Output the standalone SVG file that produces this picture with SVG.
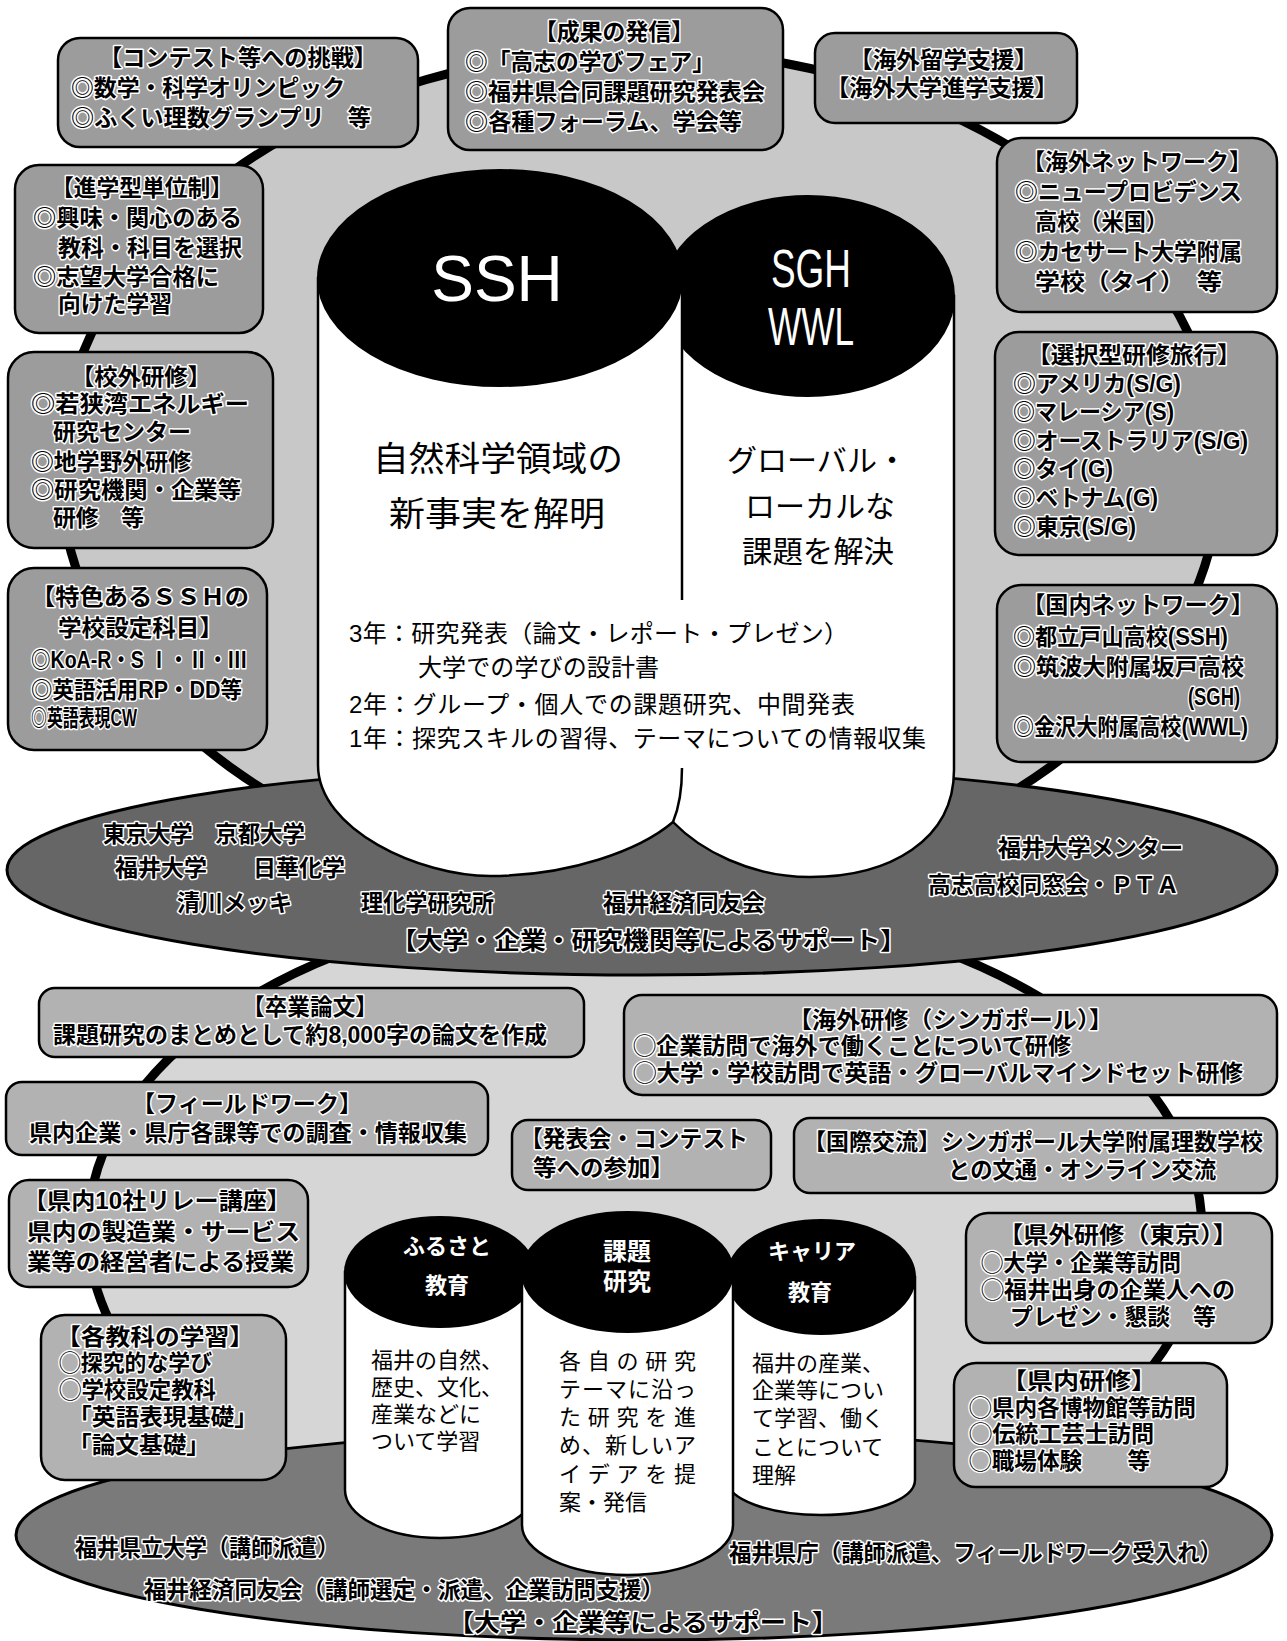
<svg xmlns="http://www.w3.org/2000/svg" width="1287" height="1641" viewBox="0 0 1287 1641">
<defs>
<style>
.bgtop{fill:#c8c8c8}
.bgbot{fill:#d6d6d6}
.ring{fill:none;stroke:#000;stroke-width:9}
.box{fill:#9c9c9c;stroke:#000;stroke-width:2.5}
.box2{fill:#b2b2b2;stroke:#000;stroke-width:2.5}
.dark{fill:#666;stroke:#000;stroke-width:3}
.dark2{fill:#7a7a7a;stroke:#000;stroke-width:3}
.cyl{fill:#fff;stroke:#000;stroke-width:2.5}
.cap{fill:#000;stroke:#000;stroke-width:2}
.t{font-family:"Liberation Sans","Noto Sans CJK JP",sans-serif;font-weight:700;font-size:23px;fill:#000;stroke:#fff;stroke-width:3;paint-order:stroke;stroke-linejoin:round;dominant-baseline:central}
.b{font-family:"Liberation Sans","Noto Sans CJK JP",sans-serif;font-weight:400;font-size:22px;fill:#000;dominant-baseline:central}
.bl{font-family:"Liberation Sans","Noto Sans CJK JP",sans-serif;font-weight:400;font-size:34px;fill:#000;dominant-baseline:central}
.w{font-family:"Liberation Sans","Noto Sans CJK JP",sans-serif;font-weight:700;font-size:22px;fill:#fff;dominant-baseline:central}
.lat{font-family:"Liberation Sans",Arial,sans-serif;fill:#fff}
</style>
</defs>
<rect width="1287" height="1641" fill="#fff"/>
<g id="background">
<ellipse class="bgtop" cx="640" cy="470" rx="580" ry="420"/>
<ellipse class="bgbot" cx="645" cy="1230" rx="557" ry="330"/>
</g>
<g id="connectors">
<ellipse class="ring" cx="640" cy="470" rx="580" ry="420"/>
<ellipse class="ring" cx="645" cy="1230" rx="557" ry="330"/>
</g>

<g id="support-top">
<ellipse class="dark" cx="642" cy="870" rx="635" ry="105"/>
<text class="t" x="103" y="834" textLength="202" lengthAdjust="spacingAndGlyphs">東京大学　京都大学</text>
<text class="t" x="115" y="868" textLength="230" lengthAdjust="spacingAndGlyphs">福井大学　　日華化学</text>
<text class="t" x="177" y="903" textLength="115" lengthAdjust="spacingAndGlyphs">清川メッキ</text>
<text class="t" x="361" y="903" textLength="133" lengthAdjust="spacingAndGlyphs">理化学研究所</text>
<text class="t" x="603" y="903" textLength="162" lengthAdjust="spacingAndGlyphs">福井経済同友会</text>
<text class="t" x="391" y="940" textLength="515" lengthAdjust="spacingAndGlyphs" style="font-size:24px">【大学・企業・研究機関等によるサポート】</text>
<text class="t" x="998" y="848" textLength="185" lengthAdjust="spacingAndGlyphs">福井大学メンター</text>
<text class="t" x="928" y="885" textLength="251" lengthAdjust="spacingAndGlyphs">高志高校同窓会・ＰＴＡ</text>
</g>

<g id="sgh-cylinder">
<path class="cyl" d="M662,296 L662,760 L673,822 C700,850 750,877 810,877 C890,877 954,840 954,770 L954,296 Z"/>
<ellipse class="cap" cx="808" cy="296" rx="146" ry="100"/>
<text class="lat" x="771" y="287" textLength="80" lengthAdjust="spacingAndGlyphs" style="font-size:54px">SGH</text>
<text class="lat" x="768" y="345" textLength="86" lengthAdjust="spacingAndGlyphs" style="font-size:54px">WWL</text>
<text class="bl" x="727" y="460" textLength="180" lengthAdjust="spacingAndGlyphs" style="font-size:30px">グローバル・</text>
<text class="bl" x="745" y="506" textLength="150" lengthAdjust="spacingAndGlyphs" style="font-size:30px">ローカルな</text>
<text class="bl" x="742" y="551" textLength="152" lengthAdjust="spacingAndGlyphs" style="font-size:30px">課題を解決</text>
</g>

<g id="ssh-cylinder">
<path class="cyl" d="M318,278 L318,765 C318,830 420,876 490,876 C570,876 640,850 673,822 C678,810 682,795 682,768 L682,278 Z"/>
<ellipse class="cap" cx="500" cy="278" rx="182" ry="108"/>
<text class="lat" x="497" y="301" text-anchor="middle" style="font-size:64px">SSH</text>
<text class="bl" x="373" y="459" textLength="250" lengthAdjust="spacingAndGlyphs">自然科学領域の</text>
<text class="bl" x="389" y="514" textLength="216" lengthAdjust="spacingAndGlyphs">新事実を解明</text>
</g>

<g id="years">
<rect x="326" y="600" width="620" height="168" fill="#fff"/>
<text class="b" x="349" y="633" textLength="499" lengthAdjust="spacing" style="font-size:24px">3年：研究発表（論文・レポート・プレゼン）</text>
<text class="b" x="418" y="667" textLength="241" lengthAdjust="spacing" style="font-size:24px">大学での学びの設計書</text>
<text class="b" x="349" y="704" textLength="506" lengthAdjust="spacing" style="font-size:24px">2年：グループ・個人での課題研究、中間発表</text>
<text class="b" x="349" y="738" textLength="577" lengthAdjust="spacing" style="font-size:24px">1年：探究スキルの習得、テーマについての情報収集</text>
</g>

<g id="box-contest">
<rect class="box" x="58" y="38" width="360" height="109" rx="22"/>
<text class="t" x="99" y="58" textLength="278" lengthAdjust="spacingAndGlyphs">【コンテスト等への挑戦】</text>
<text class="t" x="71" y="88" textLength="274" lengthAdjust="spacingAndGlyphs">◎数学・科学オリンピック</text>
<text class="t" x="71" y="118" textLength="300" lengthAdjust="spacingAndGlyphs">◎ふくい理数グランプリ　等</text>
</g>
<g id="box-tanisei">
<rect class="box" x="15" y="165" width="248" height="168" rx="24"/>
<text class="t" x="51" y="188" textLength="182" lengthAdjust="spacingAndGlyphs">【進学型単位制】</text>
<text class="t" x="33" y="218" textLength="209" lengthAdjust="spacingAndGlyphs">◎興味・関心のある</text>
<text class="t" x="58" y="248" textLength="184" lengthAdjust="spacingAndGlyphs">教科・科目を選択</text>
<text class="t" x="33" y="277" textLength="186" lengthAdjust="spacingAndGlyphs">◎志望大学合格に</text>
<text class="t" x="58" y="304" textLength="114" lengthAdjust="spacingAndGlyphs">向けた学習</text>
</g>
<g id="box-seika">
<rect class="box" x="448" y="8" width="335" height="142" rx="22"/>
<text class="t" x="534" y="32" textLength="160" lengthAdjust="spacingAndGlyphs">【成果の発信】</text>
<text class="t" x="465" y="62" textLength="250" lengthAdjust="spacingAndGlyphs">◎「高志の学びフェア」</text>
<text class="t" x="465" y="92" textLength="300" lengthAdjust="spacingAndGlyphs">◎福井県合同課題研究発表会</text>
<text class="t" x="465" y="122" textLength="277" lengthAdjust="spacingAndGlyphs">◎各種フォーラム、学会等</text>
</g>
<g id="box-ryugaku">
<rect class="box" x="815" y="33" width="262" height="90" rx="20"/>
<text class="t" x="849" y="60" textLength="189" lengthAdjust="spacingAndGlyphs">【海外留学支援】</text>
<text class="t" x="826" y="88" textLength="232" lengthAdjust="spacingAndGlyphs">【海外大学進学支援】</text>
</g>
<g id="box-kaigai-net">
<rect class="box" x="997" y="138" width="280" height="174" rx="24"/>
<text class="t" x="1022" y="162" textLength="230" lengthAdjust="spacingAndGlyphs">【海外ネットワーク】</text>
<text class="t" x="1015" y="192" textLength="227" lengthAdjust="spacingAndGlyphs">◎ニュープロビデンス</text>
<text class="t" x="1035" y="222" textLength="133" lengthAdjust="spacingAndGlyphs">高校（米国）</text>
<text class="t" x="1015" y="252" textLength="227" lengthAdjust="spacingAndGlyphs">◎カセサート大学附属</text>
<text class="t" x="1035" y="282" textLength="187" lengthAdjust="spacingAndGlyphs">学校（タイ）　等</text>
</g>
<g id="box-ryoko">
<rect class="box" x="995" y="332" width="282" height="223" rx="24"/>
<text class="t" x="1027" y="355" textLength="214" lengthAdjust="spacingAndGlyphs">【選択型研修旅行】</text>
<text class="t" x="1013" y="384" textLength="168" lengthAdjust="spacingAndGlyphs">◎アメリカ(S/G)</text>
<text class="t" x="1013" y="412" textLength="161" lengthAdjust="spacingAndGlyphs">◎マレーシア(S)</text>
<text class="t" x="1013" y="441" textLength="235" lengthAdjust="spacingAndGlyphs">◎オーストラリア(S/G)</text>
<text class="t" x="1013" y="469" textLength="100" lengthAdjust="spacingAndGlyphs">◎タイ(G)</text>
<text class="t" x="1013" y="498" textLength="145" lengthAdjust="spacingAndGlyphs">◎ベトナム(G)</text>
<text class="t" x="1013" y="527" textLength="123" lengthAdjust="spacingAndGlyphs">◎東京(S/G)</text>
</g>
<g id="box-kokunai-net">
<rect class="box" x="997" y="585" width="280" height="177" rx="24"/>
<text class="t" x="1022" y="605" textLength="232" lengthAdjust="spacingAndGlyphs">【国内ネットワーク】</text>
<text class="t" x="1013" y="637" textLength="215" lengthAdjust="spacingAndGlyphs">◎都立戸山高校(SSH)</text>
<text class="t" x="1013" y="667" textLength="231" lengthAdjust="spacingAndGlyphs">◎筑波大附属坂戸高校</text>
<text class="t" x="1188" y="697" textLength="52" lengthAdjust="spacingAndGlyphs">(SGH)</text>
<text class="t" x="1013" y="727" textLength="235" lengthAdjust="spacingAndGlyphs">◎金沢大附属高校(WWL)</text>
</g>
<g id="box-kogai">
<rect class="box" x="8" y="352" width="265" height="196" rx="26"/>
<text class="t" x="71" y="377" textLength="140" lengthAdjust="spacingAndGlyphs">【校外研修】</text>
<text class="t" x="31" y="404" textLength="218" lengthAdjust="spacingAndGlyphs">◎若狭湾エネルギー</text>
<text class="t" x="53" y="432" textLength="138" lengthAdjust="spacingAndGlyphs">研究センター</text>
<text class="t" x="31" y="462" textLength="160" lengthAdjust="spacingAndGlyphs">◎地学野外研修</text>
<text class="t" x="31" y="490" textLength="210" lengthAdjust="spacingAndGlyphs">◎研究機関・企業等</text>
<text class="t" x="53" y="518" textLength="91" lengthAdjust="spacingAndGlyphs">研修　等</text>
</g>
<g id="box-tokushoku">
<rect class="box" x="8" y="568" width="259" height="182" rx="26"/>
<text class="t" x="31" y="597" textLength="218" lengthAdjust="spacingAndGlyphs">【特色あるＳＳＨの</text>
<text class="t" x="58" y="628" textLength="165" lengthAdjust="spacingAndGlyphs">学校設定科目】</text>
<text class="t" x="31" y="660" textLength="216" lengthAdjust="spacingAndGlyphs">◎KoA-R・S Ⅰ・Ⅱ・Ⅲ</text>
<text class="t" x="31" y="690" textLength="211" lengthAdjust="spacingAndGlyphs">◎英語活用RP・DD等</text>
<text class="t" x="31" y="718" textLength="106" lengthAdjust="spacingAndGlyphs">◎英語表現CW</text>
</g>

<g id="support-bottom">
<ellipse class="dark2" cx="644" cy="1535" rx="628" ry="105"/>
<text class="t" x="75" y="1548" textLength="264" lengthAdjust="spacingAndGlyphs">福井県立大学（講師派遣）</text>
<text class="t" x="144" y="1590" textLength="520" lengthAdjust="spacingAndGlyphs">福井経済同友会（講師選定・派遣、企業訪問支援）</text>
<text class="t" x="729" y="1553" textLength="493" lengthAdjust="spacingAndGlyphs">福井県庁（講師派遣、フィールドワーク受入れ）</text>
<text class="t" x="448" y="1622" textLength="390" lengthAdjust="spacingAndGlyphs" style="font-size:24px">【大学・企業等によるサポート】</text>
</g>

<g id="cyl-furusato">
<path class="cyl" d="M345,1272 L345,1490 A95,48 0 0,0 535,1490 L535,1272 Z"/>
<ellipse class="cap" cx="440" cy="1272" rx="95" ry="55"/>
<text class="w" x="447" y="1246" text-anchor="middle">ふるさと</text>
<text class="w" x="447" y="1285" text-anchor="middle">教育</text>
<text class="b" x="371" y="1360">福井の自然、</text>
<text class="b" x="371" y="1387">歴史、文化、</text>
<text class="b" x="371" y="1414">産業などに</text>
<text class="b" x="371" y="1441">ついて学習</text>
</g>
<g id="cyl-career">
<path class="cyl" d="M727,1277 L727,1480 A94,35 0 0,0 915,1480 L915,1277 Z"/>
<ellipse class="cap" cx="821" cy="1277" rx="94" ry="57"/>
<text class="w" x="812" y="1251" text-anchor="middle">キャリア</text>
<text class="w" x="810" y="1292" text-anchor="middle">教育</text>
<text class="b" x="752" y="1363">福井の産業、</text>
<text class="b" x="752" y="1390">企業等につい</text>
<text class="b" x="752" y="1418">て学習、働く</text>
<text class="b" x="752" y="1447">ことについて</text>
<text class="b" x="752" y="1475">理解</text>
</g>
<g id="cyl-kadai">
<path class="cyl" d="M522,1272 L522,1525 A105.5,50 0 0,0 733,1525 L733,1272 Z"/>
<ellipse class="cap" cx="627.5" cy="1272" rx="105.5" ry="60"/>
<text class="w" x="627" y="1251" text-anchor="middle" style="font-size:24px">課題</text>
<text class="w" x="627" y="1281" text-anchor="middle" style="font-size:24px">研究</text>
<text class="b" x="559" y="1361" textLength="137" lengthAdjust="spacing">各自の研究</text>
<text class="b" x="559" y="1389" textLength="137" lengthAdjust="spacing">テーマに沿っ</text>
<text class="b" x="559" y="1417" textLength="137" lengthAdjust="spacing">た研究を進</text>
<text class="b" x="559" y="1445" textLength="137" lengthAdjust="spacing">め、新しいア</text>
<text class="b" x="559" y="1474" textLength="137" lengthAdjust="spacing">イデアを提</text>
<text class="b" x="559" y="1502">案・発信</text>
</g>

<g id="box-sotsuron">
<rect class="box2" x="39" y="988" width="545" height="69" rx="16"/>
<text class="t" x="242" y="1007" textLength="136" lengthAdjust="spacingAndGlyphs">【卒業論文】</text>
<text class="t" x="53" y="1035" textLength="494" lengthAdjust="spacingAndGlyphs">課題研究のまとめとして約8,000字の論文を作成</text>
</g>
<g id="box-fieldwork">
<rect class="box2" x="6" y="1082" width="482" height="73" rx="16"/>
<text class="t" x="132" y="1104" textLength="230" lengthAdjust="spacingAndGlyphs">【フィールドワーク】</text>
<text class="t" x="29" y="1133" textLength="438" lengthAdjust="spacingAndGlyphs">県内企業・県庁各課等での調査・情報収集</text>
</g>
<g id="box-relay">
<rect class="box2" x="9" y="1180" width="299" height="107" rx="20"/>
<text class="t" x="23" y="1201" textLength="268" lengthAdjust="spacingAndGlyphs">【県内10社リレー講座】</text>
<text class="t" x="27" y="1232" textLength="273" lengthAdjust="spacingAndGlyphs">県内の製造業・サービス</text>
<text class="t" x="27" y="1262" textLength="267" lengthAdjust="spacingAndGlyphs">業等の経営者による授業</text>
</g>
<g id="box-happyo">
<rect class="box2" x="512" y="1120" width="259" height="70" rx="16"/>
<text class="t" x="520" y="1139" textLength="228" lengthAdjust="spacingAndGlyphs">【発表会・コンテスト</text>
<text class="t" x="533" y="1168" textLength="141" lengthAdjust="spacingAndGlyphs">等への参加】</text>
</g>
<g id="box-singapore">
<rect class="box2" x="624" y="995" width="653" height="100" rx="18"/>
<text class="t" x="788" y="1020" textLength="325" lengthAdjust="spacingAndGlyphs">【海外研修（シンガポール）】</text>
<text class="t" x="633" y="1046" textLength="438" lengthAdjust="spacingAndGlyphs">◯企業訪問で海外で働くことについて研修</text>
<text class="t" x="633" y="1073" textLength="610" lengthAdjust="spacingAndGlyphs">◯大学・学校訪問で英語・グローバルマインドセット研修</text>
</g>
<g id="box-kokusai">
<rect class="box2" x="794" y="1118" width="483" height="75" rx="16"/>
<text class="t" x="803" y="1142" textLength="460" lengthAdjust="spacingAndGlyphs">【国際交流】シンガポール大学附属理数学校</text>
<text class="t" x="948" y="1170" textLength="268" lengthAdjust="spacingAndGlyphs">との文通・オンライン交流</text>
</g>
<g id="box-kengai">
<rect class="box2" x="966" y="1213" width="306" height="130" rx="22"/>
<text class="t" x="998" y="1235" textLength="240" lengthAdjust="spacingAndGlyphs">【県外研修（東京）】</text>
<text class="t" x="981" y="1263" textLength="200" lengthAdjust="spacingAndGlyphs">◯大学・企業等訪問</text>
<text class="t" x="981" y="1290" textLength="254" lengthAdjust="spacingAndGlyphs">◯福井出身の企業人への</text>
<text class="t" x="1010" y="1317" textLength="206" lengthAdjust="spacingAndGlyphs">プレゼン・懇談　等</text>
</g>
<g id="box-kennai">
<rect class="box2" x="954" y="1363" width="273" height="124" rx="22"/>
<text class="t" x="1001" y="1381" textLength="156" lengthAdjust="spacingAndGlyphs">【県内研修】</text>
<text class="t" x="969" y="1408" textLength="227" lengthAdjust="spacingAndGlyphs">◯県内各博物館等訪問</text>
<text class="t" x="969" y="1434" textLength="185" lengthAdjust="spacingAndGlyphs">◯伝統工芸士訪問</text>
<text class="t" x="969" y="1461" textLength="181" lengthAdjust="spacingAndGlyphs">◯職場体験　　等</text>
</g>
<g id="box-kakukyoka">
<rect class="box2" x="41" y="1315" width="245" height="165" rx="24"/>
<text class="t" x="56" y="1337" textLength="198" lengthAdjust="spacingAndGlyphs">【各教科の学習】</text>
<text class="t" x="59" y="1363" textLength="153" lengthAdjust="spacingAndGlyphs">◯探究的な学び</text>
<text class="t" x="59" y="1390" textLength="157" lengthAdjust="spacingAndGlyphs">◯学校設定教科</text>
<text class="t" x="68" y="1417" textLength="190" lengthAdjust="spacingAndGlyphs">「英語表現基礎」</text>
<text class="t" x="68" y="1445" textLength="142" lengthAdjust="spacingAndGlyphs">「論文基礎」</text>
</g>
</svg>
